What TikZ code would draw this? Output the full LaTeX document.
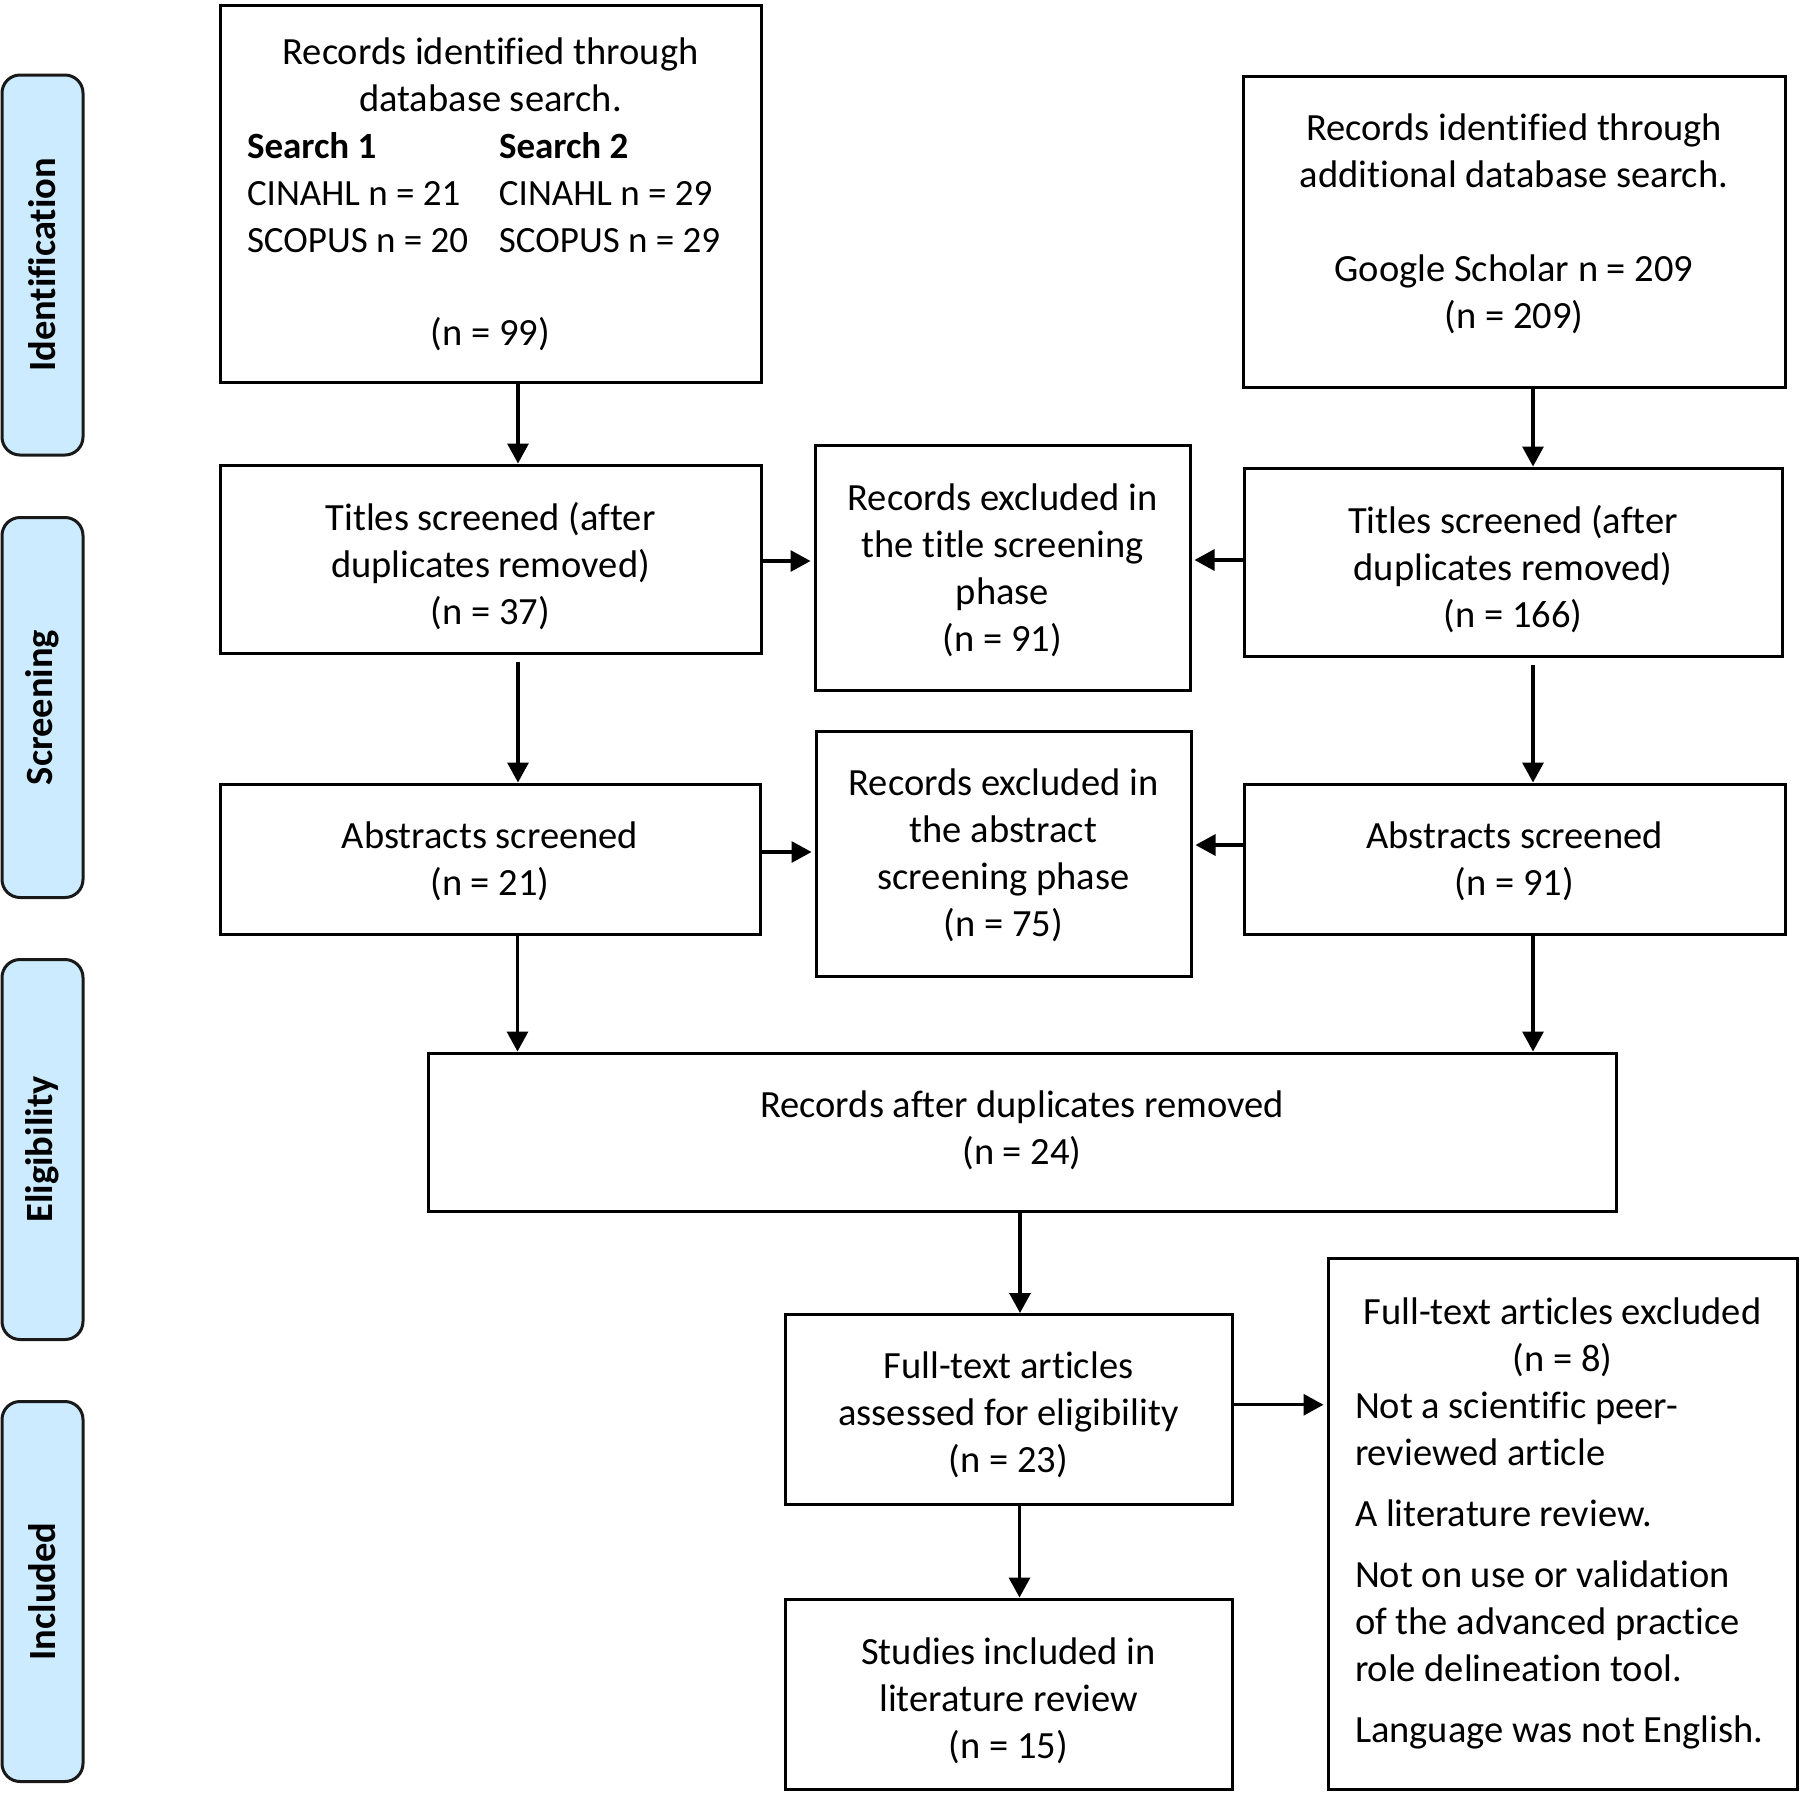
\documentclass[tikz,border=0pt]{standalone}
\usepackage{fontspec}
\setmainfont{Carlito}[Ligatures={NoCommon}]
\usetikzlibrary{arrows.meta}
\definecolor{phaseblue}{RGB}{204,235,255}
\newcommand{\colrow}[2]{\makebox[487pt][l]{\makebox[252pt][l]{#1}#2}}
\begin{document}
\begin{tikzpicture}[x=1pt,y=-1pt,
  txt/.style={font=\fontsize{38.5pt}{47pt}\selectfont},
  box/.style={draw=black, line width=3pt, inner sep=0pt},
  tnode/.style={txt, align=center, inner sep=0pt},
  arr/.style={line width=3.2pt, -{Triangle[length=20pt,width=21pt]}},
  phase/.style={draw=black!90, fill=phaseblue, line width=3pt, rounded corners=18pt, rotate=90,
    minimum width=380pt, minimum height=81pt, inner sep=0pt,
    font=\fontsize{38.5pt}{47pt}\selectfont\bfseries}]
\path[fill=white] (0,0) rectangle (1800,1792);
\useasboundingbox (0,0) rectangle (1800,1792);

% phase labels
\node[phase] (pid) at (42.5,265) {Identification};
\node[phase] (psc) at (42.5,707.5) {Screening};
\node[phase] (pel) at (42.5,1149.5) {Eligibility};
\node[phase] (pin) at (42.5,1591.5) {Included};

% boxes
\node[box, minimum width=541pt, minimum height=377pt] (b1) at (490.5,193.5) {};
\node[box, minimum width=542pt, minimum height=311pt] (b2) at (1514,231.5) {};
\node[box, minimum width=541pt, minimum height=188pt] (ts1) at (490.5,559) {};
\node[box, minimum width=375pt, minimum height=245pt] (tx) at (1002.5,567.5) {};
\node[box, minimum width=538pt, minimum height=188pt] (ts2) at (1513,562) {};
\node[box, minimum width=540pt, minimum height=150pt] (ab1) at (490,859) {};
\node[box, minimum width=375pt, minimum height=245pt] (ax) at (1003.5,853.5) {};
\node[box, minimum width=541pt, minimum height=150pt] (ab2) at (1514.5,859) {};
\node[box, minimum width=1188pt, minimum height=158pt] (rec) at (1022,1132) {};
\node[box, minimum width=447pt, minimum height=189.5pt] (ft) at (1008.5,1409.25) {};
\node[box, minimum width=447pt, minimum height=190pt] (st) at (1008.5,1694) {};
\node[box, minimum width=469pt, minimum height=531pt] (ftx) at (1562.5,1523.5) {};

% texts
\node[tnode] (b1t) at ([yshift=-1pt]b1.center)
 {Records identified through\\database search.\\
  {\fontsize{37pt}{47pt}\selectfont\colrow{\textbf{Search 1}}{\textbf{Search 2}}}\\
  {\fontsize{37pt}{47pt}\selectfont\colrow{CINAHL n = 21}{CINAHL n = 29}}\\
  {\fontsize{37pt}{47pt}\selectfont\colrow{SCOPUS n = 20}{SCOPUS n = 29}}\\[46pt]
  (n = 99)};
\node[tnode] (b2t) at ([yshift=8pt]b2.center)
 {Records identified through\\additional database search.\\[47pt]Google Scholar n = 209\\(n = 209)};
\node[tnode] (ts1t) at ([yshift=-7pt]ts1.center) {Titles screened (after\\duplicates removed)\\(n = 37)};
\node[tnode] (txt1) at ([yshift=-3pt]tx.center) {Records excluded in\\the title screening\\phase\\(n = 91)};
\node[tnode] (ts2t) at ([yshift=-7pt]ts2.center) {Titles screened (after\\duplicates removed)\\(n = 166)};
\node[tnode] (ab1t) at ([yshift=-2pt]ab1.center) {Abstracts screened\\(n = 21)};
\node[tnode] (axt) at ([yshift=-2pt]ax.center) {Records excluded in\\the abstract\\screening phase\\(n = 75)};
\node[tnode] (ab2t) at ([yshift=-2pt]ab2.center) {Abstracts screened\\(n = 91)};
\node[tnode] (rect) at ([yshift=2pt]rec.center) {Records after duplicates removed\\(n = 24)};
\node[tnode] (ftt) at ([yshift=-6pt]ft.center) {Full-text articles\\assessed for eligibility\\(n = 23)};
\node[tnode] (stt) at ([yshift=-7pt]st.center) {Studies included in\\literature review\\(n = 15)};
\node[txt, align=left, inner sep=0pt] (ftxt) at (ftx.center)
 {\makebox[415pt][c]{Full-text articles excluded}\\
  \makebox[415pt][c]{(n = 8)}\\
  Not a scientific peer-\\reviewed article\\[14pt]
  A literature review.\\[14pt]
  Not on use or validation\\of the advanced practice\\role delineation tool.\\[14pt]
  Language was not English.};

% connectors
\draw[arr] ([xshift=27.5pt]b1.south) -- ([xshift=27.5pt]b1.south |- ts1.north);
\draw[arr] ([xshift=27.5pt,yshift=-7pt]ts1.south) -- ([xshift=27.5pt]ts1.south |- ab1.north);
\draw[arr] ([xshift=27.5pt]ab1.south) -- ([xshift=27.5pt]ab1.south |- rec.north);
\draw[arr] ([xshift=19pt]b2.south) -- ([xshift=19pt]b2.south |- ts2.north);
\draw[arr] ([xshift=20pt,yshift=-7pt]ts2.south) -- ([xshift=20pt]ts2.south |- ab2.north);
\draw[arr] ([xshift=18.5pt]ab2.south) -- ([xshift=18.5pt]ab2.south |- rec.north);
\draw[arr] ([yshift=-2pt]ts1.east) -- ([yshift=-2pt,xshift=-3pt]ts1.east -| tx.west);
\draw[arr] ([yshift=2pt]ts2.west) -- ([yshift=2pt,xshift=3pt]ts2.west -| tx.east);
\draw[arr] ([yshift=7pt]ab1.east) -- ([yshift=7pt,xshift=-3pt]ab1.east -| ax.west);
\draw[arr] ([yshift=14pt]ab2.west) -- ([yshift=14pt,xshift=3pt]ab2.west -| ax.east);
\draw[arr] ([xshift=11.5pt]ft.north |- rec.south) -- ([xshift=11.5pt]ft.north);
\draw[arr] ([xshift=11pt]ft.south) -- ([xshift=11pt]ft.south |- st.north);
\draw[arr] ([yshift=4.5pt]ft.east) -- ([yshift=4.5pt,xshift=-3pt]ft.east -| ftx.west);
\end{tikzpicture}
\end{document}
